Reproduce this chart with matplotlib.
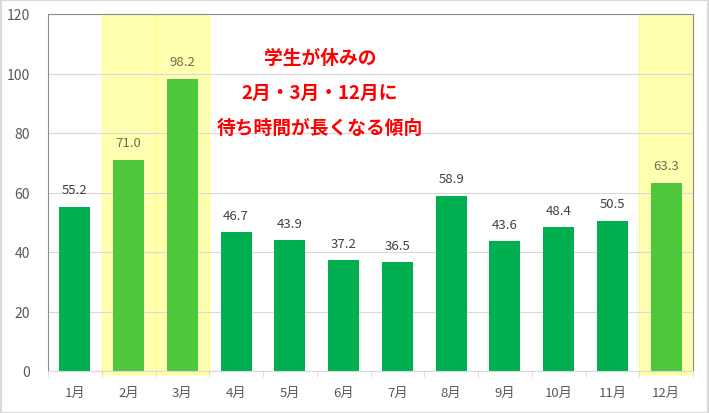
import matplotlib.pyplot as plt
import matplotlib.patches as mpatches
import numpy as np

plt.rcParams['font.family'] = ['Noto Sans CJK JP', 'DejaVu Sans']

months = ["1月", "2月", "3月", "4月", "5月", "6月", "7月", "8月", "9月", "10月", "11月", "12月"]
wait_times = [55.2, 71.0, 98.2, 46.7, 43.9, 37.2, 36.5, 58.9, 43.6, 48.4, 50.5, 63.3]
highlight = [False, True, True, False, False, False, False, False, False, False, False, True]
note_lines = ["学生が休みの", "2月・3月・12月に", "待ち時間が長くなる傾向"]

fig = plt.figure(figsize=(7.09, 4.14), dpi=100)
ax = fig.add_axes([48 / 709, 1 - 372 / 414, (693 - 48) / 709, (372 - 15) / 414])

x = np.arange(len(months))
colors = ["#4EC83A" if h else "#00B050" for h in highlight]

# yellow bands behind the highlighted months
for i, h in enumerate(highlight):
    if h:
        ax.add_patch(mpatches.Rectangle((i - 0.5, -1.0), 1, 121.0, facecolor="#FFFFB0",
                                        edgecolor="#FFFF80", linewidth=0.8,
                                        clip_on=False, zorder=0))

ax.bar(x, wait_times, width=0.58, color=colors, zorder=2)

for i, v in enumerate(wait_times):
    ax.text(i, v + 3.5, f"{v:.1f}", ha="center", va="bottom", fontsize=9.5,
            color="#6E6E50" if highlight[i] else "#404040", zorder=3)

ax.set_xlim(-0.5, len(months) - 0.5)
ax.set_ylim(0, 120)
ax.set_yticks(range(0, 121, 20))
ax.yaxis.grid(True, color="#D9D9D9", linewidth=0.8, zorder=1)
ax.set_axisbelow(True)
ax.tick_params(axis="y", length=0, pad=13, labelsize=10, labelcolor="#595959")

ax.set_xticks(x)
ax.set_xticklabels(months)
ax.set_xticks(np.arange(-0.5, len(months), 1), minor=True)
ax.tick_params(axis="x", which="major", length=0, pad=11, labelsize=9.5, labelcolor="#595959")
ax.tick_params(axis="x", which="minor", length=4, color="#D9D9D9")

for side in ["left", "top", "right"]:
    ax.spines[side].set_color("#8C8C8C")
    ax.spines[side].set_linewidth(0.8)
ax.spines["bottom"].set_color("#D9D9D9")

for k, line in enumerate(note_lines):
    fig.text(320 / 709, 1 - (58 + 35 * k) / 414, line, ha="center", va="center",
             fontsize=13.5, fontweight="bold", color="#FF0000")

fig.add_artist(mpatches.Rectangle((0.001, 0.001), 0.997, 0.997, transform=fig.transFigure,
                                  fill=False, edgecolor="#D9D9D9", linewidth=1.5))

fig.savefig("out.png", dpi=100)
